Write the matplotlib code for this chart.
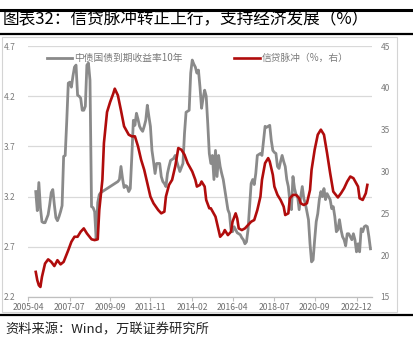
import matplotlib
matplotlib.use("Agg")
import matplotlib.pyplot as plt
from matplotlib.lines import Line2D
from matplotlib.patches import Rectangle
import pandas as pd

plt.rcParams['font.family'] = ['Noto Sans CJK SC', 'DejaVu Sans']

# 中债国债到期收益率10年 (%), monthly from 2005-09
bond_start = "2005-09"
bond_yield = [
    3.25, 3.06, 3.34, 3.09,
    2.95, 2.94, 2.94, 2.98, 3.02, 3.12, 3.24, 3.27, 3.12, 2.99, 2.96, 3.00,
    3.05, 3.11, 3.60, 3.61, 3.95, 4.33, 4.34, 4.29, 4.40, 4.49, 4.51, 4.21,
    4.20, 4.18, 4.06, 4.06, 4.10, 4.51, 4.53, 4.36, 3.10, 3.09, 3.05, 2.77,
    3.14, 3.22, 3.24, 3.25, 3.26, 3.27, 3.28, 3.29, 3.30, 3.31, 3.32, 3.33,
    3.34, 3.35, 3.37, 3.50, 3.38, 3.29, 3.31, 3.30, 3.25, 3.28, 3.60, 3.96,
    3.91, 4.03, 3.97, 3.90, 3.87, 3.85, 3.90, 3.96, 4.11, 4.00, 3.90, 3.66,
    3.55, 3.43, 3.53, 3.53, 3.53, 3.40, 3.35, 3.33, 3.30, 3.43, 3.50, 3.56,
    3.57, 3.58, 3.61, 3.55, 3.50, 3.45, 3.49, 3.53, 3.83, 4.04, 4.05, 4.06,
    4.43, 4.56, 4.52, 4.49, 4.43, 4.46, 4.29, 4.08, 4.18, 4.26, 4.20, 3.93,
    3.63, 3.53, 3.61, 3.37, 3.66, 3.40, 3.61, 3.50, 3.43, 3.37, 3.27, 3.17,
    3.07, 3.03, 2.87, 2.85, 2.90, 2.87, 2.84, 2.83, 2.82, 2.79, 2.77, 2.73,
    2.75, 2.87, 3.10, 3.33, 3.37, 3.32, 3.43, 3.61, 3.62, 3.63, 3.61, 3.76,
    3.90, 3.89, 3.90, 3.91, 3.76, 3.66, 3.64, 3.63, 3.50, 3.48, 3.55, 3.61,
    3.55, 3.50, 3.37, 3.30, 3.15, 3.07, 3.40, 3.28, 3.22, 3.20, 3.07, 3.20,
    3.30, 3.18, 3.13, 3.05, 2.97, 2.73, 2.55, 2.57, 2.77, 2.95, 3.03, 3.17,
    3.25, 3.20, 3.28, 3.17, 3.23, 3.20, 3.17, 3.08, 3.10, 3.00, 2.85, 2.87,
    2.97, 2.87, 2.80, 2.77, 2.71, 2.83, 2.83, 2.80, 2.77, 2.83, 2.77, 2.65,
    2.73, 2.65, 2.88, 2.85, 2.90, 2.91, 2.90, 2.80, 2.68,
]

# 信贷脉冲 (%, right axis)
pulse_dates = [
    "2005-09", "2005-10", "2005-11", "2005-12", "2006-01", "2006-03", "2006-05",
    "2006-07", "2006-09", "2006-11", "2007-01", "2007-03", "2007-06", "2007-08",
    "2007-10", "2007-12", "2008-02", "2008-04", "2008-06", "2008-09", "2008-11",
    "2009-01", "2009-02", "2009-04", "2009-05", "2009-07", "2009-09", "2009-11",
    "2009-12", "2010-02", "2010-04", "2010-06", "2010-09", "2010-11", "2011-01",
    "2011-03", "2011-05", "2011-07", "2011-09", "2011-11", "2012-01", "2012-04",
    "2012-06", "2012-08", "2012-09", "2012-11", "2013-01", "2013-03", "2013-05",
    "2013-07", "2013-09", "2013-11", "2014-02", "2014-04", "2014-05", "2014-07",
    "2014-08", "2014-10", "2014-11", "2015-01", "2015-02", "2015-05", "2015-07",
    "2015-08", "2015-10", "2015-11", "2016-01", "2016-03", "2016-04", "2016-06",
    "2016-07", "2016-08", "2016-10", "2016-12", "2017-02", "2017-04", "2017-06",
    "2017-08", "2017-10", "2017-11", "2018-01", "2018-03", "2018-04", "2018-06",
    "2018-07", "2018-09", "2018-11", "2019-01", "2019-02", "2019-04", "2019-05",
    "2019-07", "2019-09", "2019-11", "2019-12", "2020-02", "2020-04", "2020-06",
    "2020-07", "2020-09", "2020-11", "2021-01", "2021-03", "2021-05", "2021-07",
    "2021-09", "2021-12", "2022-02", "2022-04", "2022-06", "2022-08", "2022-10",
    "2023-01", "2023-02", "2023-04", "2023-06", "2023-07",
]
pulse_values = [
    18.0, 17.0, 16.4, 16.2, 17.4, 19.0, 19.5,
    19.2, 18.7, 19.4, 18.9, 19.2, 20.6, 21.6,
    22.2, 22.2, 22.8, 23.2, 22.6, 21.9, 21.8,
    21.9, 25.4, 29.0, 33.4, 37.1, 38.3, 39.3,
    39.9, 39.1, 37.3, 35.4, 34.4, 34.2, 34.2,
    33.0, 31.4, 30.2, 28.6, 27.0, 26.2, 25.4,
    25.0, 25.2, 27.0, 28.4, 29.0, 30.6, 32.8,
    32.6, 32.0, 31.0, 30.0, 29.0, 28.2, 28.4,
    28.8, 28.2, 26.6, 25.6, 25.6, 24.6, 23.0,
    22.2, 22.6, 23.0, 22.4, 22.8, 24.0, 25.0,
    24.4, 23.2, 23.0, 23.2, 23.6, 24.0, 24.2,
    25.4, 27.0, 29.0, 31.0, 31.6, 31.2, 29.6,
    28.2, 27.2, 26.6, 25.8, 24.8, 25.0, 26.8,
    27.2, 27.2, 26.8, 26.2, 26.0, 26.2, 27.8,
    30.2, 32.6, 34.4, 35.0, 34.4, 32.2, 29.8,
    27.6, 26.9, 27.4, 28.0, 28.8, 29.4, 29.2,
    28.2, 26.8, 26.6, 27.4, 28.4,
]

tick_labels = ["2005-04", "2007-07", "2009-09", "2011-11", "2014-02",
               "2016-04", "2018-07", "2020-09", "2022-12"]

title = "图表32：信贷脉冲转正上行，支持经济发展（%）"
bond_label = "中债国债到期收益率10年"
pulse_label = "信贷脉冲（%，右）"
source = "资料来源：Wind，万联证券研究所"

ORIGIN = pd.Period("2005-04", freq="M")


def month_index(periods):
    return [(p - ORIGIN).n for p in periods]


bond_x = month_index(pd.period_range(bond_start, periods=len(bond_yield), freq="M"))
pulse_x = month_index([pd.Period(d, freq="M") for d in pulse_dates])
tick_x = month_index([pd.Period(d, freq="M") for d in tick_labels])

W, H = 413, 346
fig = plt.figure(figsize=(W / 100, H / 100), dpi=100)

ax = fig.add_axes([28 / W, 1 - 297 / H, (372 - 28) / W, (297 - 46) / H])
ax2 = ax.twinx()

GRAY = "#8a8a8a"
RED = "#b00c0c"
TXT = "#7a7a7a"

l1, = ax.plot(bond_x, bond_yield, color=GRAY, lw=2.0, solid_joinstyle="round")
l2, = ax2.plot(pulse_x, pulse_values, color=RED, lw=1.9, solid_joinstyle="round")

ax.set_xlim(0, 222)
ax.set_ylim(2.2, 4.7)
ax2.set_ylim(15, 45)

left_ticks = [2.2, 2.7, 3.2, 3.7, 4.2, 4.7]
ax.set_yticks(left_ticks)
ax.set_yticklabels([f"{v:.1f}" for v in left_ticks])
ax2.set_yticks(list(range(15, 50, 5)))

ax.set_xticks(tick_x)
ax.set_xticklabels(tick_labels)

ax.yaxis.grid(True, color="#d9d9d9", lw=0.9)
ax.set_axisbelow(True)

for a in (ax, ax2):
    for s in ("top", "left", "right", "bottom"):
        a.spines[s].set_visible(False)
ax.spines["bottom"].set_visible(True)
ax.spines["bottom"].set_color("#bfbfbf")
ax.spines["bottom"].set_linewidth(0.9)

ax.tick_params(axis="x", length=3, width=0.8, color="#bfbfbf", pad=1.5,
               labelsize=6.2, labelcolor="#6e6e6e")
ax.tick_params(axis="y", length=0, pad=9, labelsize=6, labelcolor=TXT)
ax2.tick_params(axis="y", length=0, pad=6, labelsize=6, labelcolor=TXT)

leg = ax2.legend([l1, l2], [bond_label, pulse_label], loc="upper left",
                 bbox_to_anchor=(47 / W, 1 - 53 / H), bbox_transform=fig.transFigure,
                 ncol=2, frameon=False, fontsize=7, handlelength=2.6,
                 handletextpad=0.2, columnspacing=5.3, borderpad=0, borderaxespad=0,
                 labelcolor=TXT)

# title block and rules
fig.text(3 / W, 1 - 20 / H, title, fontsize=12, color="black", va="center", ha="left")
fig.add_artist(Line2D([0, 1], [1 - 10 / H] * 2, color="black", lw=2.2,
                      transform=fig.transFigure))
fig.add_artist(Line2D([0, 1], [1 - 34 / H] * 2, color="black", lw=1.6,
                      transform=fig.transFigure))
fig.add_artist(Rectangle((2 / W, 1 - 312 / H), 395 / W, 275 / H, fill=False,
                         edgecolor="#d4d4d4", lw=0.8, transform=fig.transFigure))
fig.add_artist(Line2D([0, 1], [1 - 314.5 / H] * 2, color="black", lw=1.6,
                      transform=fig.transFigure))
fig.text(5 / W, 1 - 330 / H, source, fontsize=9.5, color="#222222",
         va="center", ha="left", style="italic")

fig.savefig("out.png", dpi=100)
